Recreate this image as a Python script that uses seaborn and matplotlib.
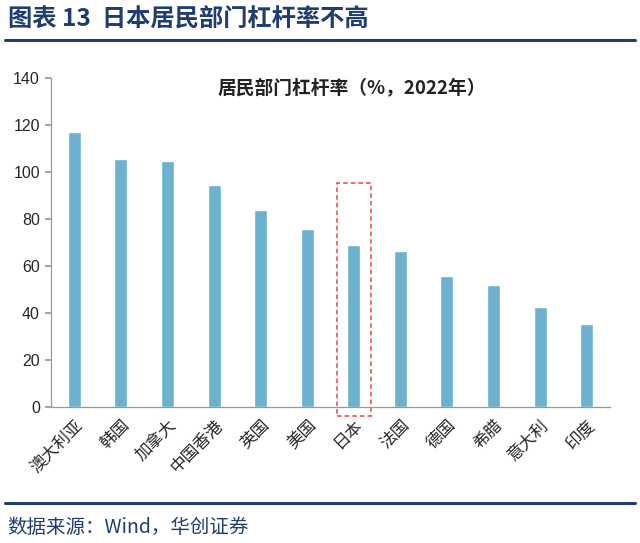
import matplotlib
matplotlib.use("Agg")
import matplotlib.pyplot as plt
import seaborn as sns
import pandas as pd
from matplotlib.patches import Rectangle
from matplotlib.lines import Line2D

# data
countries = ['澳大利亚', '韩国', '加拿大', '中国香港', '英国', '美国', '日本',
             '法国', '德国', '希腊', '意大利', '印度']
leverage = [117.0, 105.5, 104.8, 94.6, 83.8, 75.6, 69.0, 66.5, 55.7, 51.8, 42.7, 35.4]
y_ticks = [0, 20, 40, 60, 80, 100, 120, 140]

sns.set_theme(style='white')
plt.rcParams['font.family'] = ['Noto Sans CJK SC', 'DejaVu Sans']

df = pd.DataFrame({'country': countries, 'value': leverage})

fig = plt.figure(figsize=(6.4, 5.43), dpi=100)
ax = fig.add_axes([0.0797, 0.2505, 0.8733, 0.6059])

sns.barplot(data=df, x='country', y='value', color='#6CB2CE', width=0.28,
            saturation=1, ax=ax)

ax.set_xlim(-0.5, len(countries) - 0.5)
ax.set_ylim(0, 140)
ax.set_yticks(y_ticks)
ax.set_yticklabels([str(t) for t in y_ticks], fontsize=11.5, family='Liberation Sans')
ax.set_xlabel('')
ax.set_ylabel('')

ax.set_xticks(range(len(countries)))
ax.set_xticklabels(countries, rotation=45, ha='right', rotation_mode='anchor', fontsize=12)
ax.tick_params(axis='x', which='major', length=0, pad=7)
ax.set_xticks([i - 0.5 for i in range(len(countries) + 1)], minor=True)
ax.tick_params(axis='x', which='minor', length=5, color='#999999', direction='out')
ax.tick_params(axis='y', length=4, color='#999999', direction='out', left=True, pad=4)

for side in ['top', 'right']:
    ax.spines[side].set_visible(False)
for side in ['left', 'bottom']:
    ax.spines[side].set_color('#999999')
    ax.spines[side].set_linewidth(0.9)

ax.text(0.538, 0.97, '居民部门杠杆率（%，2022年）', transform=ax.transAxes,
        ha='center', va='center', fontsize=13.5, fontweight='bold', color='#222222')

# highlight Japan
jp = countries.index('日本')
ax.add_patch(Rectangle((jp - 0.36, -4), 0.72, 99.5, fill=False, edgecolor='#E8424F',
                       linestyle=(0, (3, 2)), linewidth=1.1, clip_on=False))

# header and footer
fig.text(0.012, 0.963, '图表 13  日本居民部门杠杆率不高', fontsize=17.5, fontweight='bold',
         color='#1F3D73', ha='left', va='center')
fig.add_artist(Line2D([0.008, 0.992], [0.927, 0.927], color='#1F3D73', linewidth=2.2))
fig.add_artist(Line2D([0.008, 0.992], [0.074, 0.074], color='#1F3D73', linewidth=2.2))
fig.text(0.012, 0.029, '数据来源：Wind，华创证券', fontsize=14, style='italic',
         color='#1F3D73', ha='left', va='center')

fig.savefig('out.png', dpi=100)
